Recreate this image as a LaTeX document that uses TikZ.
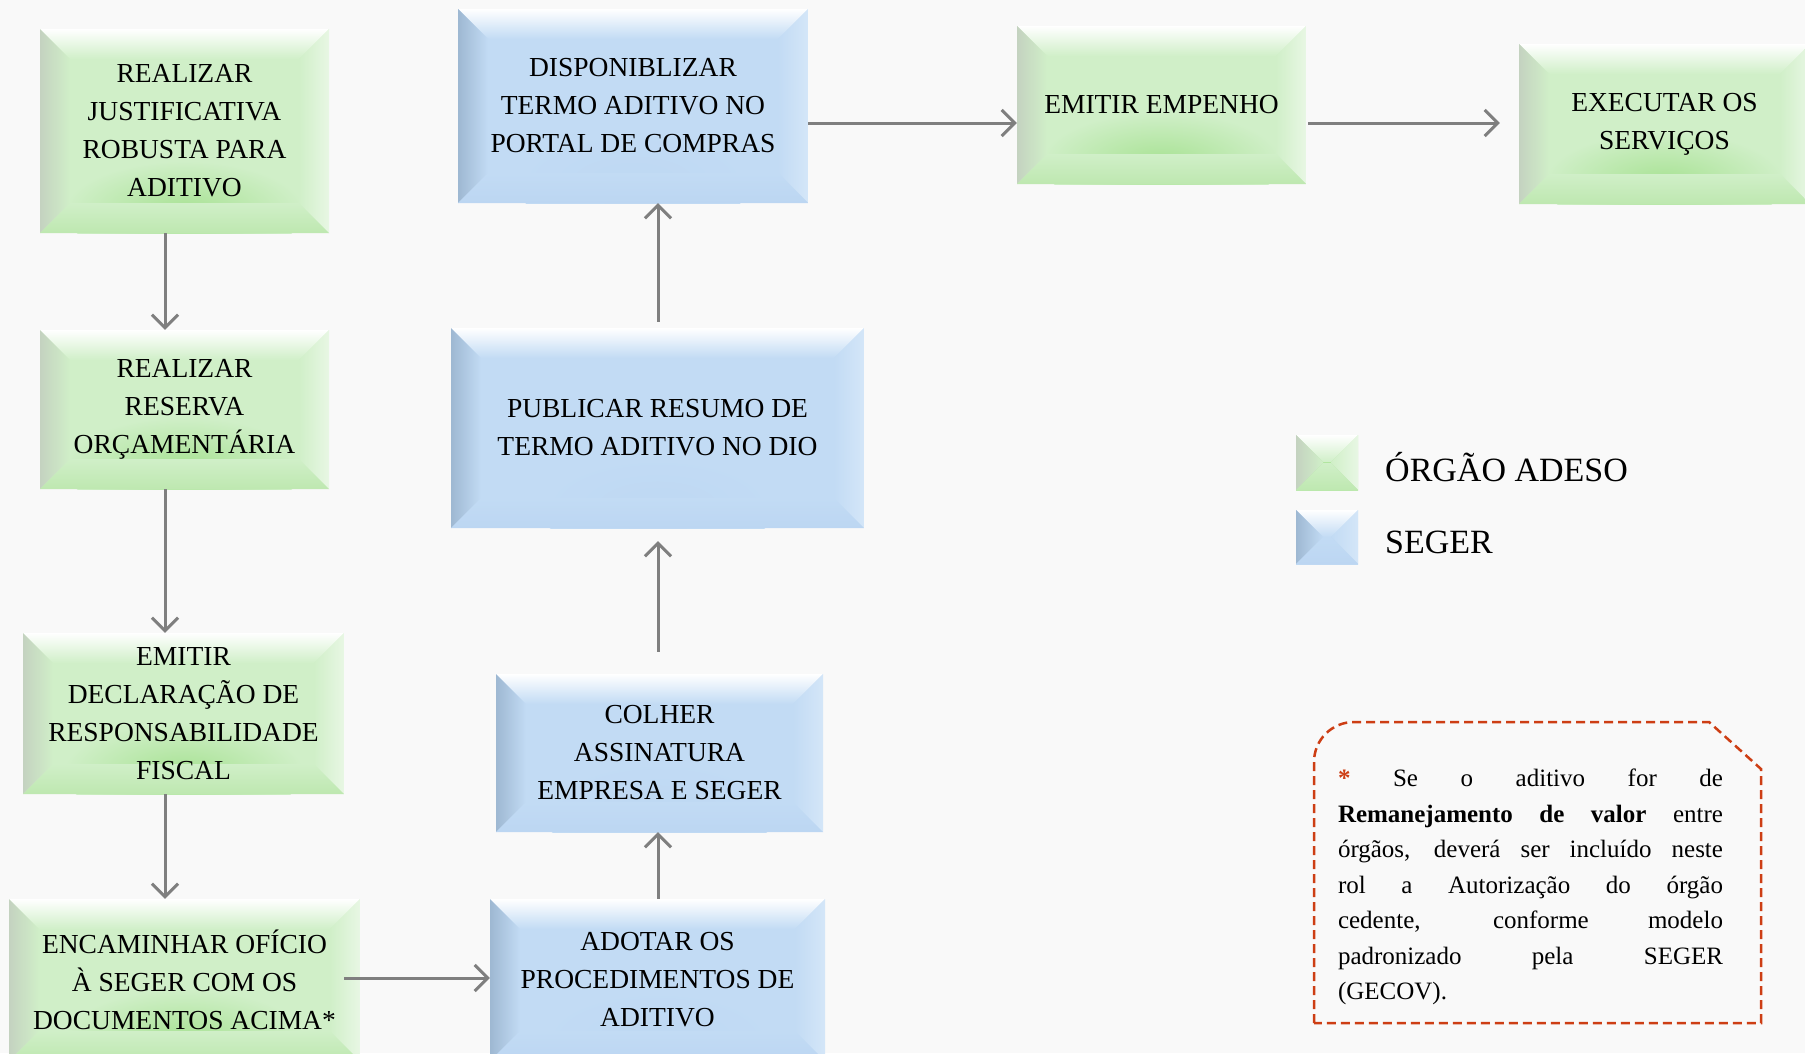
\documentclass[tikz,border=0pt]{standalone}
\usepackage{fontspec}
\setmainfont{Liberation Serif}
\usepackage{tikz}
\usetikzlibrary{arrows.meta,calc}
\usepackage{xcolor}
\definecolor{bgcol}{RGB}{249,249,249}
\definecolor{arrowgray}{RGB}{127,127,127}
\definecolor{notered}{RGB}{205,62,20}
\definecolor{grnbase}{RGB}{208,239,200}
\definecolor{grnleft}{RGB}{196,210,192}
\definecolor{grnright}{RGB}{232,247,228}
\definecolor{grnbot}{RGB}{190,232,176}
\definecolor{grnglow}{RGB}{168,226,148}
\definecolor{blubase}{RGB}{194,219,244}
\definecolor{bluleft}{RGB}{158,184,210}
\definecolor{bluright}{RGB}{212,230,248}
\definecolor{blubot}{RGB}{188,214,242}
\definecolor{bluglow}{RGB}{190,216,243}
\newcommand\boxfont{\fontsize{27.5}{38}\selectfont}
\newcommand\legfont{\fontsize{34}{40}\selectfont}
\newcommand\notefont{\fontsize{25}{35.5}\selectfont}
\newcommand\bevelpic[2]{%
  \path (path picture bounding box.north west) coordinate (pNW)
        (path picture bounding box.north east) coordinate (pNE)
        (path picture bounding box.south west) coordinate (pSW)
        (path picture bounding box.south east) coordinate (pSE);
  \shade[inner color=#1glow, outer color=#1base] ($(pSW)!0.5!(pSE)+(0,-22)$) ellipse [x radius=120, y radius=50];
  \shade[top color=white, bottom color=#1base] (pNW) -- (pNE) -- ([shift={(-#2,#2)}]pNE) -- ([shift={(#2,#2)}]pNW) -- cycle;
  \shade[left color=#1left, right color=#1base] (pNW) -- ([shift={(#2,#2)}]pNW) -- ([shift={(#2,-#2)}]pSW) -- (pSW) -- cycle;
  \shade[left color=#1base, right color=#1right] (pNE) -- (pSE) -- ([shift={(-#2,-#2)}]pSE) -- ([shift={(-#2,#2)}]pNE) -- cycle;
  \shade[top color=#1base, bottom color=#1bot] (pSW) -- (pSE) -- ([shift={(-#2,-#2)}]pSE) -- ([shift={(#2,-#2)}]pSW) -- cycle;
}
\tikzset{
  flowbox/.style={align=center, font=\boxfont, inner sep=2pt},
  orgbox/.style={flowbox, fill=grnbase, path picture={\bevelpic{grn}{#1}}},
  orgbox/.default=30,
  segbox/.style={flowbox, fill=blubase, path picture={\bevelpic{blu}{#1}}},
  segbox/.default=30,
  conn/.style={arrowgray, line width=3pt, -{Straight Barb[length=13pt,width=26pt]}},
}

\begin{document}
\begin{tikzpicture}[x=1pt, y=-1pt]
    \useasboundingbox (0,0) rectangle (1805,1053);
    \clip (0,0) rectangle (1805,1053);
    \fill[bgcol] (0,0) rectangle (1805,1053);

    \node[orgbox, minimum width=289pt, minimum height=204pt] (just) at (184.5,131) {REALIZAR\\JUSTIFICATIVA\\ROBUSTA PARA\\ADITIVO};
    \node[orgbox, minimum width=289pt, minimum height=159pt] (reserva) at (184.5,409.5) {REALIZAR\\RESERVA\\ORÇAMENTÁRIA};
    \node[orgbox, minimum width=321pt, minimum height=161pt] (decl) at (183.5,713.5) {EMITIR\\DECLARAÇÃO DE\\RESPONSABILIDADE\\FISCAL};
    \node[orgbox, minimum width=351pt, minimum height=162pt] (encam) at (184.5,980) {ENCAMINHAR OFÍCIO\\À SEGER COM OS\\DOCUMENTOS ACIMA*};

    \node[segbox, minimum width=335pt, minimum height=162pt] (adotar) at (657.5,980) {ADOTAR OS\\PROCEDIMENTOS DE\\ADITIVO};
    \node[segbox, minimum width=327pt, minimum height=158pt] (colher) at (659.5,753) {COLHER\\ASSINATURA\\EMPRESA E SEGER};
    \node[segbox, minimum width=413pt, minimum height=200pt] (publicar) at (657.5,428) {PUBLICAR RESUMO DE\\TERMO ADITIVO NO DIO};
    \node[segbox, minimum width=350pt, minimum height=194pt] (dispon) at (633,106) {DISPONIBLIZAR\\TERMO ADITIVO NO\\PORTAL DE COMPRAS};

    \node[orgbox, minimum width=289pt, minimum height=158pt] (empenho) at (1161.5,105) {EMITIR EMPENHO};
    \node[orgbox, minimum width=291pt, minimum height=160pt] (executar) at (1664.5,124) {EXECUTAR OS\\SERVIÇOS};

    \coordinate (lx) at (165,0);
    \coordinate (mx) at (658,0);
    \coordinate (ty) at (0,123);
    \coordinate (by) at (0,978);

    \draw[conn] (just.south -| lx) -- (reserva.north -| lx);
    \draw[conn] (reserva.south -| lx) -- (decl.north -| lx);
    \draw[conn] (decl.south -| lx) -- (encam.north -| lx);
    \draw[conn, shorten <=-16pt] (encam.east |- by) -- (adotar.west |- by);
    \draw[conn] (adotar.north -| mx) -- (colher.south -| mx);
    \draw[conn, shorten <=22pt, shorten >=13pt] (colher.north -| mx) -- (publicar.south -| mx);
    \draw[conn, shorten <=6pt] (publicar.north -| mx) -- (dispon.south -| mx);
    \draw[conn] (dispon.east |- ty) -- (empenho.west |- ty);
    \draw[conn, shorten <=2pt, shorten >=19pt] (empenho.east |- ty) -- (executar.west |- ty);

    \node[orgbox=27, minimum width=62pt, minimum height=55pt] (lgorg) at (1327,462.5) {};
    \node[segbox=27, minimum width=62pt, minimum height=54pt] (lgseg) at (1327,537) {};
    \node[anchor=west, inner sep=0pt, font=\legfont] (lgorgtxt) at (1385,467) {ÓRGÃO ADESO};
    \node[anchor=west, inner sep=0pt, font=\legfont] (lgsegtxt) at (1385,542) {SEGER};

    \draw[notered, line width=2.5pt, dash pattern=on 9pt off 5pt]
      (1314,1023) -- (1314,762) to[out=90, in=180] (1354,722) -- (1709,722) -- (1761,769) -- (1761,1023) -- cycle;
    \node[text width=385pt, align=justify, inner sep=0pt, font=\notefont] (note) at (1530.5,887)
      {{\color{notered}\bfseries *}\ Se o aditivo for de\linebreak
       \textbf{Remanejamento de valor} entre\linebreak
       órgãos, deverá ser incluído neste\linebreak
       rol a Autorização do órgão\linebreak
       cedente, conforme modelo\linebreak
       padronizado pela SEGER\linebreak
       (GECOV).};
  \end{tikzpicture}
\end{document}
